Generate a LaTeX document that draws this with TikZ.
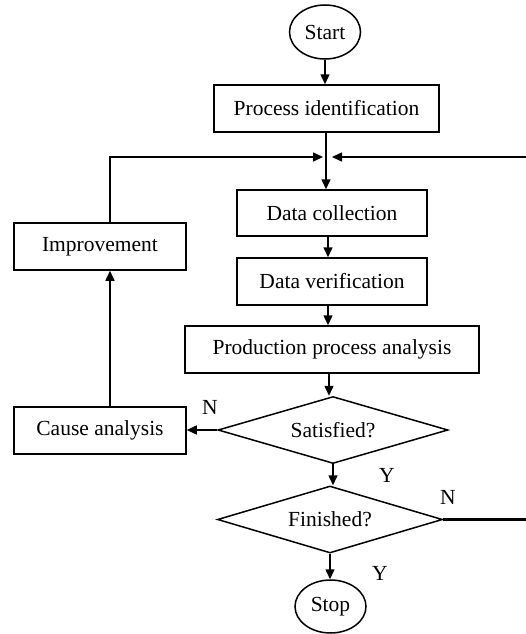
\documentclass[tikz,border=0pt]{standalone}
\usepackage{fontspec}
\setmainfont{Liberation Serif}
\usetikzlibrary{shapes.geometric,arrows.meta}
\begin{document}
\begin{tikzpicture}[x=1pt,y=-1pt,
  every node/.style={font=\fontsize{21.5}{25}\selectfont, inner sep=0pt},
  box/.style={draw, line width=1.5pt, rectangle},
  term/.style={draw, line width=1.5pt, ellipse},
  dec/.style={draw, line width=1.5pt, diamond, aspect=3.4},
  arr/.style={line width=1.5pt, -{Triangle[length=10pt,width=9pt]}},
  ln/.style={line width=1.5pt},
  thickln/.style={line width=2.3pt},
  lbl/.style={font=\fontsize{21.5}{25}\selectfont}]
\useasboundingbox (0,0) rectangle (525,634);
\node[term, minimum width=71pt, minimum height=54pt] (start) at (325,32) {Start};
\node[box, minimum width=225pt, minimum height=47pt] (pid) at (326.5,108.5) {Process identification};
\node[box, minimum width=190pt, minimum height=46pt] (dc) at (332,213) {Data collection};
\node[box, minimum width=190pt, minimum height=47pt] (dv) at (332,281.5) {Data verification};
\node[box, minimum width=294pt, minimum height=47pt] (ppa) at (332,349.5) {Production process analysis};
\node[dec, minimum width=230pt, minimum height=67pt] (sat) at (333,430) {Satisfied?};
\node[dec, minimum width=225pt, minimum height=67pt] (fin) at (330,519.5) {Finished?};
\node[term, minimum width=71pt, minimum height=53pt] (stop) at (330.5,606.5) {Stop};
\node[box, minimum width=172pt, minimum height=47pt] (imp) at (100,246.5) {Improvement};
\node[box, minimum width=172pt, minimum height=47pt] (cause) at (100,430.5) {Cause analysis};
\coordinate (j) at (326,157);
\coordinate (r1) at (528,519.5);
\coordinate (r2) at (528,157);
\node[lbl] (n1) at (210,407) {N};
\node[lbl] (y1) at (387,475) {Y};
\node[lbl] (n2) at (448,497) {N};
\node[lbl] (y2) at (380,573) {Y};
\draw[arr] (start.south) -- (start.south |- pid.north);
\draw[ln] (pid.south -| j) -- (j);
\draw[arr] (j) -- (j |- dc.north);
\draw[arr] ([xshift=-4pt]dc.south) -- ([xshift=-4pt]dv.north);
\draw[arr] ([xshift=-4pt]dv.south) -- ([xshift=-4pt]dv.south |- ppa.north);
\draw[arr] ([xshift=-3pt]ppa.south) -- ([xshift=-3pt]ppa.south |- sat.north);
\draw[arr] (sat.west) -- (cause.east |- sat.west);
\draw[arr] ([xshift=10pt]cause.north) -- ([xshift=10pt]imp.south);
\draw[arr] ([xshift=10pt]imp.north) |- ([xshift=-3pt]j);
\draw[arr] (sat.south) -- (sat.south |- fin.north);
\draw[arr] (fin.south) -- (fin.south |- stop.north);
\draw[thickln] (fin.east) -- (r1) -- (r2);
\draw[arr] (r2) -- ([xshift=6pt]j);
\end{tikzpicture}
\end{document}
